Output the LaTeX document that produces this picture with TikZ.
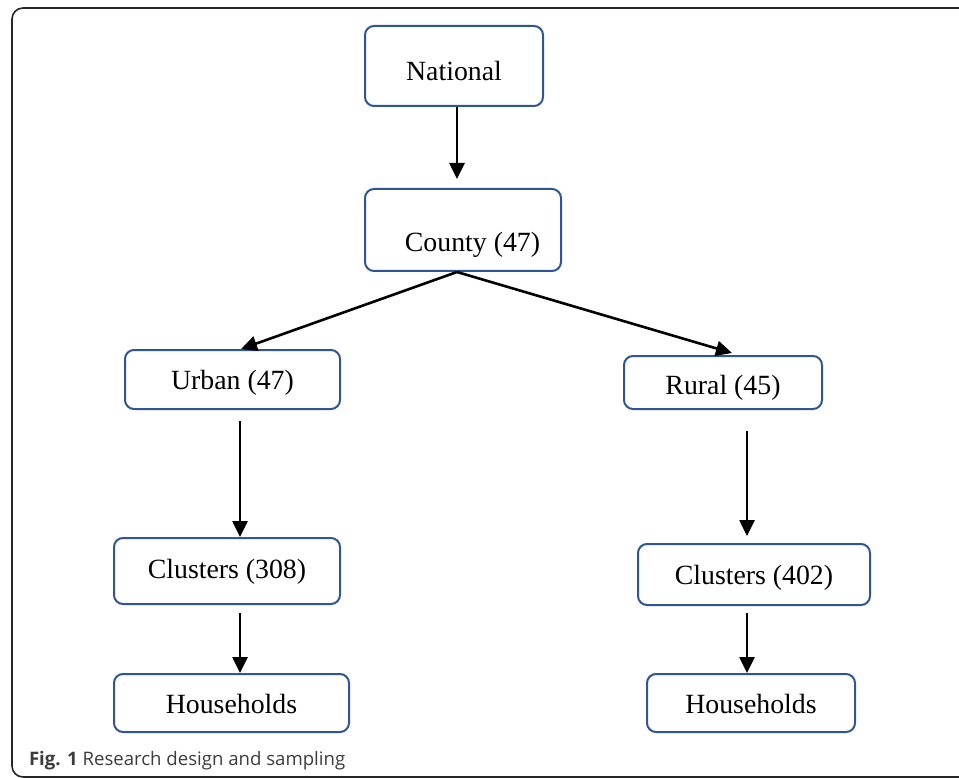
\documentclass[tikz,border=0pt]{standalone}
\usepackage{fontspec}
\setmainfont{Liberation Serif}
\newfontfamily\capfont{Open Sans}
\usetikzlibrary{arrows.meta}

\definecolor{boxblue}{RGB}{47,85,151}
\definecolor{capgray}{RGB}{60,60,60}

\begin{document}
\begin{tikzpicture}[x=1pt,y=-1pt,line width=2pt,>={Triangle[length=16pt,width=15pt]}]
    \tikzstyle{level}=[rectangle,draw=boxblue,line width=2pt,rounded corners=9pt,inner sep=0pt,text height=20pt,text depth=0pt,font=\fontsize{27.8}{30}\selectfont]
    \tikzstyle{link}=[->,draw=black,line width=2.6pt]
    \tikzstyle{caption}=[anchor=base west,inner sep=0pt,text=capgray,font=\capfont\fontsize{18.6}{22}\selectfont]

    \useasboundingbox (0,0) rectangle (959,778);

    %%% FRAME
    \draw[line width=1.6pt,draw=black!85,rounded corners=11pt] (990,8) -- (12,8) -- (12,777) -- (990,777);

    %%% DRAW THE NODES
    \node[level,minimum width=178pt,minimum height=80pt] (N) at (454,66) {\raisebox{-5pt}{National}};
    \node[level,minimum width=196pt,minimum height=82pt] (C) at (463,230) {\raisebox{-12pt}{\hspace*{19pt}County (47)}};

    \node[level,minimum width=215pt,minimum height=59pt] (U) at (232.5,379.5) {Urban (47)};
    \node[level,minimum width=198pt,minimum height=53pt] (R) at (723,382.5) {\raisebox{-2pt}{Rural (45)}};

    \node[level,minimum width=226pt,minimum height=66pt] (CU) at (227,571) {\raisebox{3pt}{Clusters (308)}};
    \node[level,minimum width=232pt,minimum height=61pt] (CR) at (754,574.5) {Clusters (402)};

    \node[level,minimum width=235pt,minimum height=58pt] (HU) at (231.5,703) {Households};
    \node[level,minimum width=208pt,minimum height=58pt] (HR) at (751,703) {Households};

    %%% DRAW THE PATHS
    \draw[link,shorten >=9pt] ([xshift=3pt]N.south) -- ([xshift=3pt]N.south |- C.north);
    \draw[link] ([xshift=-6pt]C.south) -- ([xshift=8.5pt]U.north);
    \draw[link] ([xshift=-6pt]C.south) -- ([xshift=9pt,yshift=2pt]R.north);

    \draw[link,shorten <=11pt] ([xshift=7.5pt]U.south) -- ([xshift=7.5pt]U.south |- CU.north);
    \draw[link,shorten <=21pt,shorten >=7pt] ([xshift=24pt]R.south) -- ([xshift=24pt]R.south |- CR.north);

    \draw[link,shorten <=8pt] ([xshift=13pt]CU.south) -- ([xshift=13pt]CU.south |- HU.north);
    \draw[link,shorten <=7pt] ([xshift=-7pt]CR.south) -- ([xshift=-7pt]CR.south |- HR.north);

    %%% ANOTATE
    \node[caption] (cap) at (28,765) {\textbf{Fig. 1} Research design and sampling};

\end{tikzpicture}
\end{document}
